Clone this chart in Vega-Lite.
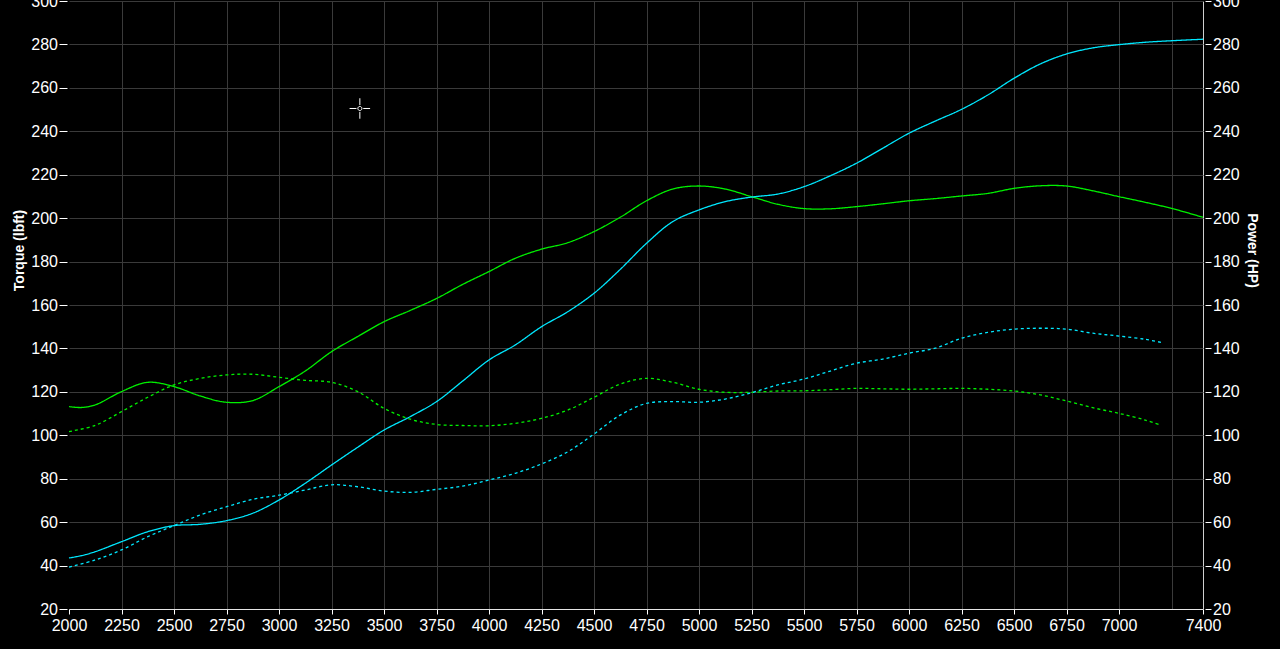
{
  "$schema": "https://vega.github.io/schema/vega-lite/v6.json",
  "width": 1134,
  "height": 608,
  "autosize": {"type": "none"},
  "padding": {"left": 69, "top": 1, "right": 77, "bottom": 40},
  "background": "#000000",
  "config": {"view": {"stroke": null}},
  "datasets": {
    "runs": [
      {"run": "A", "rpm": 2000, "torque": 113.2, "power": 43.5},
      {"run": "A", "rpm": 2060, "torque": 112.8, "power": 44.6},
      {"run": "A", "rpm": 2125, "torque": 114.0, "power": 46.4},
      {"run": "A", "rpm": 2250, "torque": 120.1, "power": 51.0},
      {"run": "A", "rpm": 2375, "torque": 124.4, "power": 55.6},
      {"run": "A", "rpm": 2500, "torque": 122.4, "power": 58.4},
      {"run": "A", "rpm": 2625, "torque": 118.1, "power": 59.0},
      {"run": "A", "rpm": 2750, "torque": 115.2, "power": 60.7},
      {"run": "A", "rpm": 2875, "torque": 116.0, "power": 64.1},
      {"run": "A", "rpm": 3000, "torque": 122.4, "power": 70.2},
      {"run": "A", "rpm": 3125, "torque": 129.6, "power": 77.9},
      {"run": "A", "rpm": 3250, "torque": 138.5, "power": 86.3},
      {"run": "A", "rpm": 3375, "torque": 145.5, "power": 94.5},
      {"run": "A", "rpm": 3500, "torque": 152.3, "power": 102.4},
      {"run": "A", "rpm": 3625, "torque": 157.5, "power": 108.6},
      {"run": "A", "rpm": 3750, "torque": 163.0, "power": 115.5},
      {"run": "A", "rpm": 3875, "torque": 169.5, "power": 125.0},
      {"run": "A", "rpm": 4000, "torque": 175.4, "power": 134.7},
      {"run": "A", "rpm": 4125, "torque": 181.5, "power": 141.6},
      {"run": "A", "rpm": 4250, "torque": 185.7, "power": 150.0},
      {"run": "A", "rpm": 4375, "torque": 188.7, "power": 156.9},
      {"run": "A", "rpm": 4500, "torque": 193.8, "power": 165.4},
      {"run": "A", "rpm": 4625, "torque": 200.4, "power": 176.4},
      {"run": "A", "rpm": 4750, "torque": 208.0, "power": 188.4},
      {"run": "A", "rpm": 4875, "torque": 213.4, "power": 198.4},
      {"run": "A", "rpm": 5000, "torque": 214.8, "power": 203.8},
      {"run": "A", "rpm": 5125, "torque": 213.4, "power": 207.6},
      {"run": "A", "rpm": 5250, "torque": 209.9, "power": 209.7},
      {"run": "A", "rpm": 5375, "torque": 206.4, "power": 211.1},
      {"run": "A", "rpm": 5500, "torque": 204.4, "power": 214.5},
      {"run": "A", "rpm": 5625, "torque": 204.3, "power": 219.5},
      {"run": "A", "rpm": 5750, "torque": 205.3, "power": 225.3},
      {"run": "A", "rpm": 5875, "torque": 206.6, "power": 232.2},
      {"run": "A", "rpm": 6000, "torque": 208.0, "power": 239.1},
      {"run": "A", "rpm": 6125, "torque": 209.0, "power": 244.7},
      {"run": "A", "rpm": 6250, "torque": 210.2, "power": 250.1},
      {"run": "A", "rpm": 6375, "torque": 211.4, "power": 256.7},
      {"run": "A", "rpm": 6500, "torque": 213.7, "power": 264.4},
      {"run": "A", "rpm": 6625, "torque": 214.9, "power": 271.0},
      {"run": "A", "rpm": 6750, "torque": 214.8, "power": 275.6},
      {"run": "A", "rpm": 6875, "torque": 212.6, "power": 278.4},
      {"run": "A", "rpm": 7000, "torque": 209.9, "power": 279.9},
      {"run": "A", "rpm": 7125, "torque": 207.3, "power": 281.0},
      {"run": "A", "rpm": 7250, "torque": 204.5, "power": 281.7},
      {"run": "A", "rpm": 7400, "torque": 200.4, "power": 282.4},
      {"run": "B", "rpm": 2000, "torque": 101.7, "power": 39.3},
      {"run": "B", "rpm": 2125, "torque": 104.6, "power": 42.6},
      {"run": "B", "rpm": 2250, "torque": 110.9, "power": 47.2},
      {"run": "B", "rpm": 2375, "torque": 117.5, "power": 53.3},
      {"run": "B", "rpm": 2500, "torque": 123.2, "power": 58.4},
      {"run": "B", "rpm": 2625, "torque": 126.2, "power": 63.3},
      {"run": "B", "rpm": 2750, "torque": 127.8, "power": 67.1},
      {"run": "B", "rpm": 2875, "torque": 128.1, "power": 70.5},
      {"run": "B", "rpm": 3000, "torque": 126.7, "power": 72.4},
      {"run": "B", "rpm": 3125, "torque": 125.3, "power": 74.8},
      {"run": "B", "rpm": 3250, "torque": 124.4, "power": 77.2},
      {"run": "B", "rpm": 3375, "torque": 120.1, "power": 76.3},
      {"run": "B", "rpm": 3500, "torque": 112.4, "power": 74.3},
      {"run": "B", "rpm": 3625, "torque": 107.4, "power": 73.7},
      {"run": "B", "rpm": 3750, "torque": 105.0, "power": 75.1},
      {"run": "B", "rpm": 3875, "torque": 104.5, "power": 76.6},
      {"run": "B", "rpm": 4000, "torque": 104.4, "power": 79.4},
      {"run": "B", "rpm": 4125, "torque": 105.5, "power": 82.5},
      {"run": "B", "rpm": 4250, "torque": 107.8, "power": 86.8},
      {"run": "B", "rpm": 4375, "torque": 111.6, "power": 92.4},
      {"run": "B", "rpm": 4500, "torque": 117.5, "power": 100.6},
      {"run": "B", "rpm": 4625, "torque": 123.6, "power": 109.3},
      {"run": "B", "rpm": 4750, "torque": 126.2, "power": 114.7},
      {"run": "B", "rpm": 4875, "torque": 124.4, "power": 115.5},
      {"run": "B", "rpm": 5000, "torque": 121.2, "power": 115.2},
      {"run": "B", "rpm": 5125, "torque": 119.8, "power": 116.7},
      {"run": "B", "rpm": 5250, "torque": 119.8, "power": 119.6},
      {"run": "B", "rpm": 5375, "torque": 120.4, "power": 123.2},
      {"run": "B", "rpm": 5500, "torque": 120.5, "power": 125.9},
      {"run": "B", "rpm": 5625, "torque": 121.0, "power": 129.6},
      {"run": "B", "rpm": 5750, "torque": 121.6, "power": 133.2},
      {"run": "B", "rpm": 5875, "torque": 121.4, "power": 135.1},
      {"run": "B", "rpm": 6000, "torque": 121.2, "power": 137.8},
      {"run": "B", "rpm": 6125, "torque": 121.4, "power": 140.1},
      {"run": "B", "rpm": 6250, "torque": 121.6, "power": 144.7},
      {"run": "B", "rpm": 6375, "torque": 121.2, "power": 147.4},
      {"run": "B", "rpm": 6500, "torque": 120.4, "power": 148.9},
      {"run": "B", "rpm": 6625, "torque": 118.6, "power": 149.3},
      {"run": "B", "rpm": 6750, "torque": 115.8, "power": 148.9},
      {"run": "B", "rpm": 6875, "torque": 112.7, "power": 147.0},
      {"run": "B", "rpm": 7000, "torque": 110.1, "power": 145.7},
      {"run": "B", "rpm": 7125, "torque": 107.0, "power": 144.2},
      {"run": "B", "rpm": 7200, "torque": 104.6, "power": 142.8}
    ],
    "cursor": [{"rpm": 3385, "value": 250.5}]
  },
  "layer": [
    {
      "data": {"name": "runs"},
      "mark": {"type": "line", "interpolate": "catmull-rom", "strokeWidth": 1.3, "color": "#00f000"},
      "encoding": {
        "x": {
          "field": "rpm", "type": "quantitative",
          "scale": {"domain": [2000, 7400], "nice": false, "zero": false},
          "axis": {
            "orient": "top",
            "values": [2250, 2500, 2750, 3000, 3250, 3500, 3750, 4000, 4250, 4500, 4750, 5000, 5250, 5500, 5750, 6000, 6250, 6500, 6750, 7000, 7250, 7400],
            "grid": true,
            "gridColor": {"condition": {"test": "datum.value === 7400", "value": "#cfcfcf"}, "value": "#3a3a3a"},
            "gridWidth": 1,
            "labels": false, "ticks": false, "domain": false, "title": null
          }
        },
        "y": {
          "field": "torque", "type": "quantitative",
          "scale": {"domain": [20, 300], "nice": false, "zero": false},
          "axis": {
            "orient": "left",
            "values": [20, 40, 60, 80, 100, 120, 140, 160, 180, 200, 220, 240, 260, 280, 300],
            "format": "d",
            "grid": true, "gridColor": "#3a3a3a",
            "domain": false,
            "offset": 2,
            "tickColor": "#ffffff", "tickSize": 8, "tickWidth": 1,
            "labelColor": "#ffffff", "labelFont": "Liberation Sans", "labelFontSize": 16,
            "labelPadding": 1.5, "labelOverlap": false, "labelFlush": false,
            "title": "Torque (lbft)",
            "titleColor": "#ffffff", "titleFont": "Liberation Sans", "titleFontSize": 14, "titleFontWeight": "bold",
            "titleAngle": -90, "titleAlign": "center", "titleBaseline": "alphabetic",
            "titleX": -44, "titleY": 249
          }
        },
        "strokeDash": {
          "field": "run", "type": "nominal",
          "scale": {"domain": ["A", "B"], "range": [[1, 0], [3, 3]]},
          "legend": null
        }
      }
    },
    {
      "data": {"name": "runs"},
      "mark": {"type": "line", "interpolate": "catmull-rom", "strokeWidth": 1.3, "color": "#00e8ff"},
      "encoding": {
        "x": {
          "field": "rpm", "type": "quantitative",
          "scale": {"domain": [2000, 7400], "nice": false, "zero": false},
          "axis": {
            "orient": "bottom",
            "values": [2000, 2250, 2500, 2750, 3000, 3250, 3500, 3750, 4000, 4250, 4500, 4750, 5000, 5250, 5500, 5750, 6000, 6250, 6500, 6750, 7000, 7400],
            "format": "d",
            "grid": false,
            "domain": true, "domainColor": "#e6e6e6", "domainWidth": 1,
            "tickColor": "#ffffff", "tickSize": 5,
            "labelColor": "#ffffff", "labelFont": "Liberation Sans", "labelFontSize": 16,
            "labelPadding": 3, "labelOverlap": false, "labelFlush": false,
            "title": null
          }
        },
        "y": {
          "field": "power", "type": "quantitative",
          "scale": {"domain": [20, 300], "nice": false, "zero": false},
          "axis": {
            "orient": "right",
            "values": [20, 40, 60, 80, 100, 120, 140, 160, 180, 200, 220, 240, 260, 280, 300],
            "format": "d",
            "grid": false,
            "domain": false,
            "offset": 2,
            "tickColor": "#ffffff", "tickSize": 6, "tickWidth": 1,
            "labelColor": "#ffffff", "labelFont": "Liberation Sans", "labelFontSize": 16,
            "labelPadding": 1.5, "labelOverlap": false, "labelFlush": false,
            "title": "Power (HP)",
            "titleColor": "#ffffff", "titleFont": "Liberation Sans", "titleFontSize": 14, "titleFontWeight": "bold",
            "titleAngle": 90, "titleAlign": "center", "titleBaseline": "alphabetic",
            "titleX": 42, "titleY": 249
          }
        },
        "strokeDash": {
          "field": "run", "type": "nominal",
          "scale": {"domain": ["A", "B"], "range": [[1, 0], [3, 3]]},
          "legend": null
        }
      }
    },
    {
      "data": {"name": "cursor"},
      "mark": {
        "type": "point",
        "shape": "M-1,0H-0.33M0.33,0H1M0,-1V-0.33M0,0.33V1M0.2,0A0.2,0.2 0 1,1 -0.2,0A0.2,0.2 0 1,1 0.2,0Z",
        "size": 420, "filled": false, "stroke": "#ffffff", "strokeWidth": 1, "opacity": 1
      },
      "encoding": {
        "x": {"field": "rpm", "type": "quantitative", "scale": {"domain": [2000, 7400], "nice": false, "zero": false}, "axis": null},
        "y": {"field": "value", "type": "quantitative", "scale": {"domain": [20, 300], "nice": false, "zero": false}, "axis": null}
      }
    }
  ],
  "resolve": {"scale": {"y": "independent"}, "axis": {"x": "independent"}}
}
